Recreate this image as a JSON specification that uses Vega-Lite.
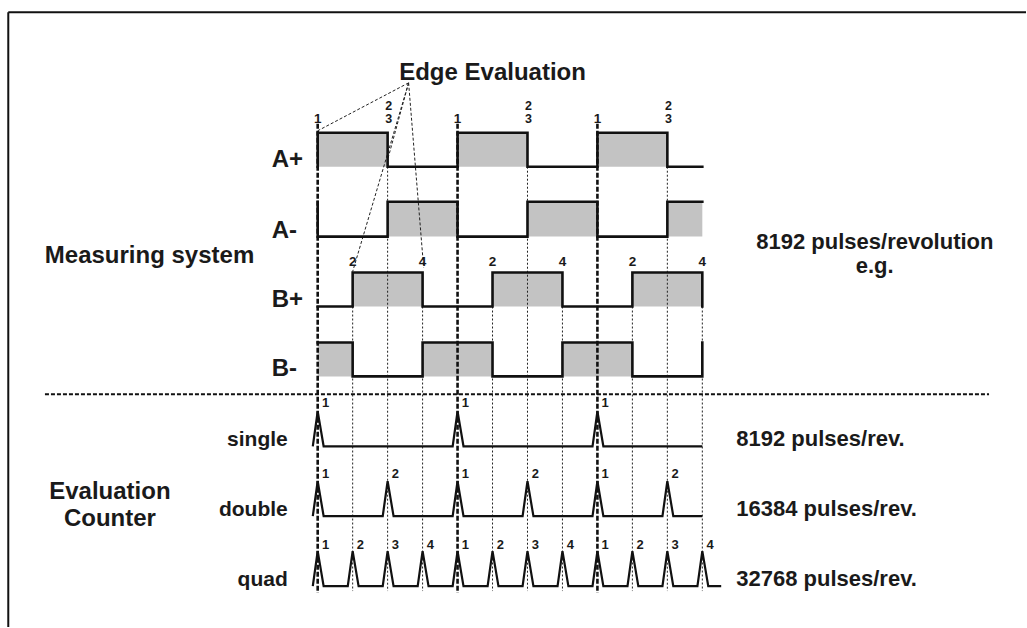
{
  "$schema": "https://vega.github.io/schema/vega-lite/v6.json",
  "width": 1027,
  "height": 628,
  "autosize": {"type": "fit", "contains": "padding"},
  "padding": 0,
  "background": "white",
  "config": {"view": {"stroke": null}, "text": {"font": "Liberation Sans", "fontWeight": "bold", "color": "#1a1a1a", "baseline": "alphabetic"}},
  "layer": [
    {
      "data": {"values": [
        {"sig": "A+", "t": 0, "t2": 2, "y": 133, "y2": 167},
        {"sig": "A+", "t": 4, "t2": 6, "y": 133, "y2": 167},
        {"sig": "A+", "t": 8, "t2": 10, "y": 133, "y2": 167},
        {"sig": "A-", "t": 2, "t2": 4, "y": 202, "y2": 237},
        {"sig": "A-", "t": 6, "t2": 8, "y": 202, "y2": 237},
        {"sig": "A-", "t": 10, "t2": 11, "y": 202, "y2": 237},
        {"sig": "B+", "t": 1, "t2": 3, "y": 273, "y2": 307},
        {"sig": "B+", "t": 5, "t2": 7, "y": 273, "y2": 307},
        {"sig": "B+", "t": 9, "t2": 11, "y": 273, "y2": 307},
        {"sig": "B-", "t": 0, "t2": 1, "y": 343, "y2": 377},
        {"sig": "B-", "t": 3, "t2": 5, "y": 343, "y2": 377},
        {"sig": "B-", "t": 7, "t2": 9, "y": 343, "y2": 377}
      ]},
      "mark": {"type": "rect", "color": "#c3c3c3"},
      "encoding": {
        "x": {"field": "t", "type": "quantitative", "scale": {"domain": [-9.0857, 20.2571], "nice": false, "zero": false}, "axis": null},
        "x2": {"field": "t2"},
        "y": {"field": "y", "type": "quantitative", "scale": {"domain": [0, 628], "reverse": true, "nice": false, "zero": false}, "axis": null},
        "y2": {"field": "y2"}
      }
    },
    {
      "data": {"values": [
        {"t": 1, "y": 307, "y2": 592},
        {"t": 2, "y": 167, "y2": 592},
        {"t": 3, "y": 307, "y2": 592},
        {"t": 5, "y": 307, "y2": 592},
        {"t": 6, "y": 167, "y2": 592},
        {"t": 7, "y": 307, "y2": 592},
        {"t": 9, "y": 307, "y2": 592},
        {"t": 10, "y": 167, "y2": 592},
        {"t": 11, "y": 307, "y2": 592}
      ]},
      "mark": {"type": "rule", "color": "#222", "strokeWidth": 1, "strokeDash": [2, 2]},
      "encoding": {
        "x": {"field": "t", "type": "quantitative", "scale": {"domain": [-9.0857, 20.2571], "nice": false, "zero": false}, "axis": null},
        "y": {"field": "y", "type": "quantitative", "scale": {"domain": [0, 628], "reverse": true, "nice": false, "zero": false}, "axis": null},
        "y2": {"field": "y2"}
      }
    },
    {
      "data": {"values": [
        {"t": 0, "y": 124, "y2": 594},
        {"t": 4, "y": 124, "y2": 594},
        {"t": 8, "y": 124, "y2": 594}
      ]},
      "mark": {"type": "rule", "color": "#111", "strokeWidth": 2.6, "strokeDash": [5, 2]},
      "encoding": {
        "x": {"field": "t", "type": "quantitative", "scale": {"domain": [-9.0857, 20.2571], "nice": false, "zero": false}, "axis": null},
        "y": {"field": "y", "type": "quantitative", "scale": {"domain": [0, 628], "reverse": true, "nice": false, "zero": false}, "axis": null},
        "y2": {"field": "y2"}
      }
    },
    {
      "data": {"values": [
        {"t": 2.6, "y": 83, "t2": 0, "y2": 131},
        {"t": 2.6, "y": 83, "t2": 2.0, "y2": 160},
        {"t": 2.6, "y": 83, "t2": 1.0, "y2": 272},
        {"t": 2.6, "y": 83, "t2": 3.03, "y2": 268}
      ]},
      "mark": {"type": "rule", "color": "#222", "strokeWidth": 1, "strokeDash": [3, 2]},
      "encoding": {
        "x": {"field": "t", "type": "quantitative", "scale": {"domain": [-9.0857, 20.2571], "nice": false, "zero": false}, "axis": null},
        "x2": {"field": "t2"},
        "y": {"field": "y", "type": "quantitative", "scale": {"domain": [0, 628], "reverse": true, "nice": false, "zero": false}, "axis": null},
        "y2": {"field": "y2"}
      }
    },
    {
      "data": {"values": [
        {"t": -7.8, "t2": 19.2, "y": 395}
      ]},
      "mark": {"type": "rule", "color": "#111", "strokeWidth": 2, "strokeDash": [4, 2]},
      "encoding": {
        "x": {"field": "t", "type": "quantitative", "scale": {"domain": [-9.0857, 20.2571], "nice": false, "zero": false}, "axis": null},
        "x2": {"field": "t2"},
        "y": {"field": "y", "type": "quantitative", "scale": {"domain": [0, 628], "reverse": true, "nice": false, "zero": false}, "axis": null}
      }
    },
    {
      "data": {"values": [
        {"t": -8.849, "t2": 20.2571, "y": 12.3, "y2": 12.3},
        {"t": -8.849, "t2": -8.849, "y": 12.3, "y2": 628}
      ]},
      "mark": {"type": "rule", "color": "#111", "strokeWidth": 2},
      "encoding": {
        "x": {"field": "t", "type": "quantitative", "scale": {"domain": [-9.0857, 20.2571], "nice": false, "zero": false}, "axis": null},
        "x2": {"field": "t2"},
        "y": {"field": "y", "type": "quantitative", "scale": {"domain": [0, 628], "reverse": true, "nice": false, "zero": false}, "axis": null},
        "y2": {"field": "y2"}
      }
    },
    {
      "data": {"values": [
        {"sig": "A+", "i": 0, "t": 0, "y": 167}, {"sig": "A+", "i": 1, "t": 0, "y": 133}, {"sig": "A+", "i": 2, "t": 2, "y": 133}, {"sig": "A+", "i": 3, "t": 2, "y": 167}, {"sig": "A+", "i": 4, "t": 4, "y": 167}, {"sig": "A+", "i": 5, "t": 4, "y": 133}, {"sig": "A+", "i": 6, "t": 6, "y": 133}, {"sig": "A+", "i": 7, "t": 6, "y": 167}, {"sig": "A+", "i": 8, "t": 8, "y": 167}, {"sig": "A+", "i": 9, "t": 8, "y": 133}, {"sig": "A+", "i": 10, "t": 10, "y": 133}, {"sig": "A+", "i": 11, "t": 10, "y": 167}, {"sig": "A+", "i": 12, "t": 11, "y": 167},
        {"sig": "A-", "i": 0, "t": 0, "y": 202}, {"sig": "A-", "i": 1, "t": 0, "y": 237}, {"sig": "A-", "i": 2, "t": 2, "y": 237}, {"sig": "A-", "i": 3, "t": 2, "y": 202}, {"sig": "A-", "i": 4, "t": 4, "y": 202}, {"sig": "A-", "i": 5, "t": 4, "y": 237}, {"sig": "A-", "i": 6, "t": 6, "y": 237}, {"sig": "A-", "i": 7, "t": 6, "y": 202}, {"sig": "A-", "i": 8, "t": 8, "y": 202}, {"sig": "A-", "i": 9, "t": 8, "y": 237}, {"sig": "A-", "i": 10, "t": 10, "y": 237}, {"sig": "A-", "i": 11, "t": 10, "y": 202}, {"sig": "A-", "i": 12, "t": 11, "y": 202},
        {"sig": "B+", "i": 0, "t": 0, "y": 307}, {"sig": "B+", "i": 1, "t": 1, "y": 307}, {"sig": "B+", "i": 2, "t": 1, "y": 273}, {"sig": "B+", "i": 3, "t": 3, "y": 273}, {"sig": "B+", "i": 4, "t": 3, "y": 307}, {"sig": "B+", "i": 5, "t": 5, "y": 307}, {"sig": "B+", "i": 6, "t": 5, "y": 273}, {"sig": "B+", "i": 7, "t": 7, "y": 273}, {"sig": "B+", "i": 8, "t": 7, "y": 307}, {"sig": "B+", "i": 9, "t": 9, "y": 307}, {"sig": "B+", "i": 10, "t": 9, "y": 273}, {"sig": "B+", "i": 11, "t": 11, "y": 273}, {"sig": "B+", "i": 12, "t": 11, "y": 307},
        {"sig": "B-", "i": 0, "t": 0, "y": 343}, {"sig": "B-", "i": 1, "t": 1, "y": 343}, {"sig": "B-", "i": 2, "t": 1, "y": 377}, {"sig": "B-", "i": 3, "t": 3, "y": 377}, {"sig": "B-", "i": 4, "t": 3, "y": 343}, {"sig": "B-", "i": 5, "t": 5, "y": 343}, {"sig": "B-", "i": 6, "t": 5, "y": 377}, {"sig": "B-", "i": 7, "t": 7, "y": 377}, {"sig": "B-", "i": 8, "t": 7, "y": 343}, {"sig": "B-", "i": 9, "t": 9, "y": 343}, {"sig": "B-", "i": 10, "t": 9, "y": 377}, {"sig": "B-", "i": 11, "t": 11, "y": 377}, {"sig": "B-", "i": 12, "t": 11, "y": 343}
      ]},
      "mark": {"type": "line", "color": "#111", "strokeWidth": 2.6, "strokeJoin": "miter", "strokeCap": "square"},
      "encoding": {
        "x": {"field": "t", "type": "quantitative", "scale": {"domain": [-9.0857, 20.2571], "nice": false, "zero": false}, "axis": null},
        "y": {"field": "y", "type": "quantitative", "scale": {"domain": [0, 628], "reverse": true, "nice": false, "zero": false}, "axis": null},
        "detail": {"field": "sig"},
        "order": {"field": "i", "type": "quantitative"}
      }
    },
    {
      "data": {"values": [
        {"row": "single", "t": -0.14, "y": 447}, {"row": "single", "t": 0, "y": 412}, {"row": "single", "t": 0.17, "y": 447},
        {"row": "single", "t": 3.86, "y": 447}, {"row": "single", "t": 4, "y": 412}, {"row": "single", "t": 4.17, "y": 447},
        {"row": "single", "t": 7.86, "y": 447}, {"row": "single", "t": 8, "y": 412}, {"row": "single", "t": 8.17, "y": 447},
        {"row": "single", "t": 11, "y": 447},
        {"row": "double", "t": -0.14, "y": 517}, {"row": "double", "t": 0, "y": 482}, {"row": "double", "t": 0.17, "y": 517},
        {"row": "double", "t": 1.86, "y": 517}, {"row": "double", "t": 2, "y": 482}, {"row": "double", "t": 2.17, "y": 517},
        {"row": "double", "t": 3.86, "y": 517}, {"row": "double", "t": 4, "y": 482}, {"row": "double", "t": 4.17, "y": 517},
        {"row": "double", "t": 5.86, "y": 517}, {"row": "double", "t": 6, "y": 482}, {"row": "double", "t": 6.17, "y": 517},
        {"row": "double", "t": 7.86, "y": 517}, {"row": "double", "t": 8, "y": 482}, {"row": "double", "t": 8.17, "y": 517},
        {"row": "double", "t": 9.86, "y": 517}, {"row": "double", "t": 10, "y": 482}, {"row": "double", "t": 10.17, "y": 517},
        {"row": "double", "t": 11, "y": 517},
        {"row": "quad", "t": -0.14, "y": 587}, {"row": "quad", "t": 0, "y": 552}, {"row": "quad", "t": 0.17, "y": 587},
        {"row": "quad", "t": 0.86, "y": 587}, {"row": "quad", "t": 1, "y": 552}, {"row": "quad", "t": 1.17, "y": 587},
        {"row": "quad", "t": 1.86, "y": 587}, {"row": "quad", "t": 2, "y": 552}, {"row": "quad", "t": 2.17, "y": 587},
        {"row": "quad", "t": 2.86, "y": 587}, {"row": "quad", "t": 3, "y": 552}, {"row": "quad", "t": 3.17, "y": 587},
        {"row": "quad", "t": 3.86, "y": 587}, {"row": "quad", "t": 4, "y": 552}, {"row": "quad", "t": 4.17, "y": 587},
        {"row": "quad", "t": 4.86, "y": 587}, {"row": "quad", "t": 5, "y": 552}, {"row": "quad", "t": 5.17, "y": 587},
        {"row": "quad", "t": 5.86, "y": 587}, {"row": "quad", "t": 6, "y": 552}, {"row": "quad", "t": 6.17, "y": 587},
        {"row": "quad", "t": 6.86, "y": 587}, {"row": "quad", "t": 7, "y": 552}, {"row": "quad", "t": 7.17, "y": 587},
        {"row": "quad", "t": 7.86, "y": 587}, {"row": "quad", "t": 8, "y": 552}, {"row": "quad", "t": 8.17, "y": 587},
        {"row": "quad", "t": 8.86, "y": 587}, {"row": "quad", "t": 9, "y": 552}, {"row": "quad", "t": 9.17, "y": 587},
        {"row": "quad", "t": 9.86, "y": 587}, {"row": "quad", "t": 10, "y": 552}, {"row": "quad", "t": 10.17, "y": 587},
        {"row": "quad", "t": 10.86, "y": 587}, {"row": "quad", "t": 11, "y": 552}, {"row": "quad", "t": 11.17, "y": 587},
        {"row": "quad", "t": 11.54, "y": 587}
      ]},
      "mark": {"type": "line", "color": "#111", "strokeWidth": 2.2, "strokeJoin": "miter"},
      "encoding": {
        "x": {"field": "t", "type": "quantitative", "scale": {"domain": [-9.0857, 20.2571], "nice": false, "zero": false}, "axis": null},
        "y": {"field": "y", "type": "quantitative", "scale": {"domain": [0, 628], "reverse": true, "nice": false, "zero": false}, "axis": null},
        "detail": {"field": "row"},
        "order": {"field": "t", "type": "quantitative"}
      }
    },
    {
      "data": {"values": [
        {"t": -1.314, "y": 167, "label": "A+"},
        {"t": -1.314, "y": 238, "label": "A-"},
        {"t": -1.314, "y": 307, "label": "B+"},
        {"t": -1.314, "y": 377, "label": "B-"}
      ]},
      "mark": {"type": "text", "align": "left", "fontSize": 24},
      "encoding": {
        "x": {"field": "t", "type": "quantitative", "scale": {"domain": [-9.0857, 20.2571], "nice": false, "zero": false}, "axis": null},
        "y": {"field": "y", "type": "quantitative", "scale": {"domain": [0, 628], "reverse": true, "nice": false, "zero": false}, "axis": null},
        "text": {"field": "label"}
      }
    },
    {
      "data": {"values": [
        {"t": 12.543, "y": 249, "label": "8192 pulses/revolution"},
        {"t": 11.971, "y": 447, "label": "8192 pulses/rev."},
        {"t": 11.971, "y": 517, "label": "16384 pulses/rev."},
        {"t": 11.971, "y": 587, "label": "32768 pulses/rev."}
      ]},
      "mark": {"type": "text", "align": "left", "fontSize": 22},
      "encoding": {
        "x": {"field": "t", "type": "quantitative", "scale": {"domain": [-9.0857, 20.2571], "nice": false, "zero": false}, "axis": null},
        "y": {"field": "y", "type": "quantitative", "scale": {"domain": [0, 628], "reverse": true, "nice": false, "zero": false}, "axis": null},
        "text": {"field": "label"}
      }
    },
    {
      "data": {"values": [
        {"t": 15.93, "y": 273, "label": "e.g."}
      ]},
      "mark": {"type": "text", "align": "center", "fontSize": 22},
      "encoding": {
        "x": {"field": "t", "type": "quantitative", "scale": {"domain": [-9.0857, 20.2571], "nice": false, "zero": false}, "axis": null},
        "y": {"field": "y", "type": "quantitative", "scale": {"domain": [0, 628], "reverse": true, "nice": false, "zero": false}, "axis": null},
        "text": {"field": "label"}
      }
    },
    {
      "data": {"values": [
        {"t": 5.0, "y": 80, "label": "Edge Evaluation"},
        {"t": -4.81, "y": 263, "label": "Measuring system"},
        {"t": -5.943, "y": 500, "label": "Evaluation"},
        {"t": -5.943, "y": 527, "label": "Counter"}
      ]},
      "mark": {"type": "text", "align": "center", "fontSize": 24},
      "encoding": {
        "x": {"field": "t", "type": "quantitative", "scale": {"domain": [-9.0857, 20.2571], "nice": false, "zero": false}, "axis": null},
        "y": {"field": "y", "type": "quantitative", "scale": {"domain": [0, 628], "reverse": true, "nice": false, "zero": false}, "axis": null},
        "text": {"field": "label"}
      }
    },
    {
      "data": {"values": [
        {"t": -0.857, "y": 447, "label": "single"},
        {"t": -0.857, "y": 517, "label": "double"},
        {"t": -0.857, "y": 587, "label": "quad"}
      ]},
      "mark": {"type": "text", "align": "right", "fontSize": 21},
      "encoding": {
        "x": {"field": "t", "type": "quantitative", "scale": {"domain": [-9.0857, 20.2571], "nice": false, "zero": false}, "axis": null},
        "y": {"field": "y", "type": "quantitative", "scale": {"domain": [0, 628], "reverse": true, "nice": false, "zero": false}, "axis": null},
        "text": {"field": "label"}
      }
    },
    {
      "data": {"values": [
        {"t": 0, "y": 123, "label": "1"}, {"t": 4, "y": 123, "label": "1"}, {"t": 8, "y": 123, "label": "1"},
        {"t": 1, "y": 266, "label": "2"}, {"t": 5, "y": 266, "label": "2"}, {"t": 9, "y": 266, "label": "2"},
        {"t": 3, "y": 266, "label": "4"}, {"t": 7, "y": 266, "label": "4"}, {"t": 11, "y": 266, "label": "4"}
      ]},
      "mark": {"type": "text", "align": "center", "fontSize": 13.5},
      "encoding": {
        "x": {"field": "t", "type": "quantitative", "scale": {"domain": [-9.0857, 20.2571], "nice": false, "zero": false}, "axis": null},
        "y": {"field": "y", "type": "quantitative", "scale": {"domain": [0, 628], "reverse": true, "nice": false, "zero": false}, "axis": null},
        "text": {"field": "label"}
      }
    },
    {
      "data": {"values": [
        {"t": 2.03, "y": 110.5, "label": "2\n3"}, {"t": 6.03, "y": 110.5, "label": "2\n3"}, {"t": 10.03, "y": 110.5, "label": "2\n3"}
      ]},
      "mark": {"type": "text", "align": "center", "fontSize": 12.5, "lineBreak": "\n", "lineHeight": 12.5},
      "encoding": {
        "x": {"field": "t", "type": "quantitative", "scale": {"domain": [-9.0857, 20.2571], "nice": false, "zero": false}, "axis": null},
        "y": {"field": "y", "type": "quantitative", "scale": {"domain": [0, 628], "reverse": true, "nice": false, "zero": false}, "axis": null},
        "text": {"field": "label"}
      }
    },
    {
      "data": {"values": [
        {"t": 0.12, "y": 408, "label": "1"}, {"t": 4.12, "y": 408, "label": "1"}, {"t": 8.12, "y": 408, "label": "1"},
        {"t": 0.12, "y": 479, "label": "1"}, {"t": 2.12, "y": 479, "label": "2"}, {"t": 4.12, "y": 479, "label": "1"},
        {"t": 6.12, "y": 479, "label": "2"}, {"t": 8.12, "y": 479, "label": "1"}, {"t": 10.12, "y": 479, "label": "2"},
        {"t": 0.12, "y": 550, "label": "1"}, {"t": 1.12, "y": 550, "label": "2"}, {"t": 2.12, "y": 550, "label": "3"},
        {"t": 3.12, "y": 550, "label": "4"}, {"t": 4.12, "y": 550, "label": "1"}, {"t": 5.12, "y": 550, "label": "2"},
        {"t": 6.12, "y": 550, "label": "3"}, {"t": 7.12, "y": 550, "label": "4"}, {"t": 8.12, "y": 550, "label": "1"},
        {"t": 9.12, "y": 550, "label": "2"}, {"t": 10.12, "y": 550, "label": "3"}, {"t": 11.12, "y": 550, "label": "4"}
      ]},
      "mark": {"type": "text", "align": "left", "fontSize": 13},
      "encoding": {
        "x": {"field": "t", "type": "quantitative", "scale": {"domain": [-9.0857, 20.2571], "nice": false, "zero": false}, "axis": null},
        "y": {"field": "y", "type": "quantitative", "scale": {"domain": [0, 628], "reverse": true, "nice": false, "zero": false}, "axis": null},
        "text": {"field": "label"}
      }
    }
  ]
}
